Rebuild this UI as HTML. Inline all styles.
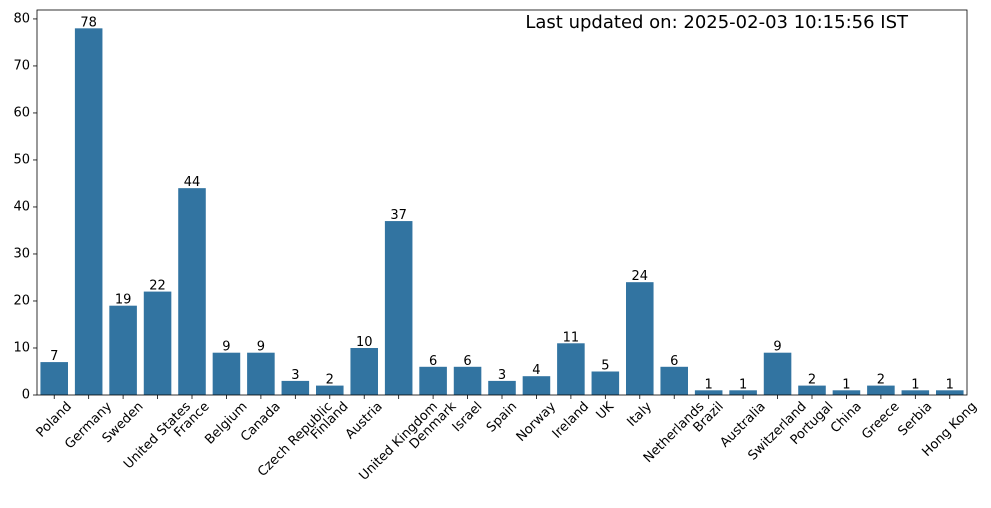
<!DOCTYPE html>
<html><head><meta charset="utf-8"><style>
html,body{margin:0;padding:0;background:#fff;}
svg{font-family:"DejaVu Sans","Liberation Sans",sans-serif;}
</style></head><body>
<svg id="chart" width="991" height="503" xmlns="http://www.w3.org/2000/svg">
<text x="908" y="28" text-anchor="end" font-size="18" fill="#000">Last updated on: 2025-02-03 10:15:56 IST</text>
</svg>
<script>
const categories = ["Poland","Germany","Sweden","United States","France","Belgium","Canada","Czech Republic","Finland","Austria","United Kingdom","Denmark","Israel","Spain","Norway","Ireland","UK","Italy","Netherlands","Brazil","Australia","Switzerland","Portugal","China","Greece","Serbia","Hong Kong"];
const values = [7,78,19,22,44,9,9,3,2,10,37,6,6,3,4,11,5,24,6,1,1,9,2,1,2,1,1];
const yTicks = [0,10,20,30,40,50,60,70,80];

const NS = "http://www.w3.org/2000/svg";
const svg = document.getElementById("chart");
const L = 37, R = 967, T = 10, B = 395;
const yMax = 81.9;
const n = categories.length;
const step = (R - L) / n;
const xc = i => L + step * (i + 0.5);
const y = v => B - v / yMax * (B - T);

function mk(tag, attrs) {
  const e = document.createElementNS(NS, tag);
  for (const k in attrs) e.setAttribute(k, attrs[k]);
  svg.appendChild(e);
  return e;
}

yTicks.forEach(t => {
  const tk = mk("line", {x1: L - 4, x2: L, y1: y(t), y2: y(t), stroke: "#000", "stroke-width": 0.8});
  
  
  const lb = mk("text", {x: L - 7, y: y(t), "text-anchor": "end", "dominant-baseline": "central", "font-size": 13});
  lb.textContent = t;
  
  
});

categories.forEach((c, i) => {
  const bw = step * 0.8;
  const bar = mk("rect", {x: xc(i) - bw / 2, y: y(values[i]), width: bw, height: B - y(values[i]), fill: "#3274a1"});
  
  
  const v = mk("text", {x: xc(i), y: y(values[i]) - 2, "text-anchor": "middle", "font-size": 13});
  v.textContent = values[i];
  
  
  const tk = mk("line", {x1: xc(i), x2: xc(i), y1: B, y2: B + 4, stroke: "#000", "stroke-width": 0.8});
  
  
  const lb = mk("text", {"text-anchor": "middle", "dominant-baseline": "central", "font-size": 13});
  lb.textContent = c;
  
  
  const w = lb.getComputedTextLength();
  const h = (w + 13) * Math.SQRT1_2;
  lb.setAttribute("transform", `translate(${xc(i)},${B + 5 + h / 2}) rotate(-45)`);
});

const frame = mk("rect", {x: L, y: T, width: R - L, height: B - T, fill: "none", stroke: "#000", "stroke-width": 0.8});


</script>
</body></html>
